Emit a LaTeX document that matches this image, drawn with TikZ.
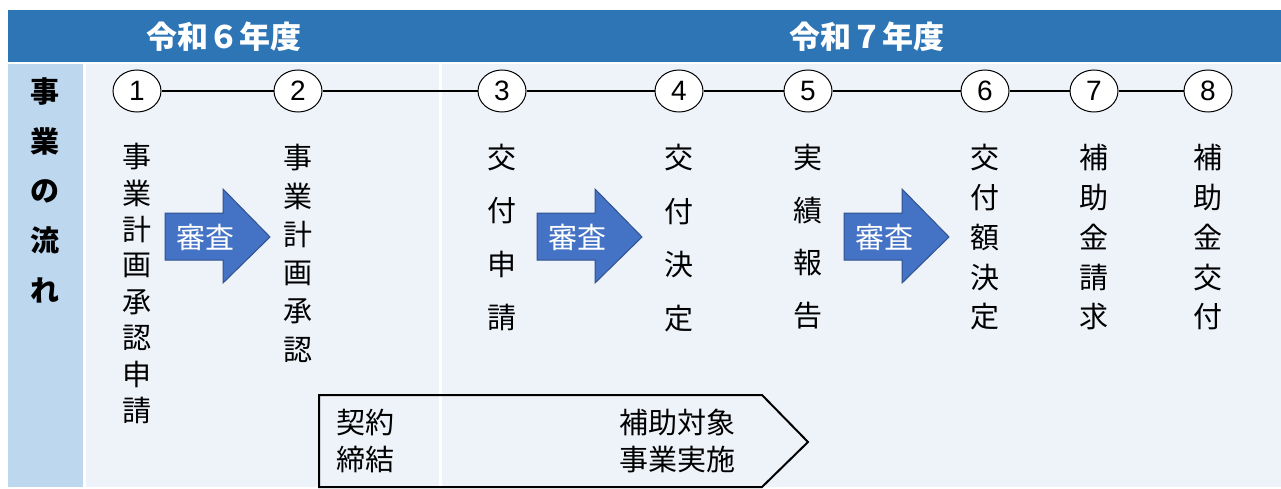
\documentclass[tikz,border=0pt]{standalone}
\usepackage{fontspec}
\setmainfont{Noto Sans CJK JP}
\newfontfamily\digitfont{Liberation Sans}
\usetikzlibrary{shapes.geometric}
\definecolor{hdr}{HTML}{2E75B6}
\definecolor{leftcol}{HTML}{BDD7EE}
\definecolor{panel}{HTML}{EEF3FA}
\definecolor{arrfill}{HTML}{4472C4}
\definecolor{arrdraw}{HTML}{2F528F}
\newcommand\mkcol[5]{\foreach \ch [count=\i] in {#5} {\node[vch] (#1-\i) at (#2,{#3+(\i-1)*#4}) {\ch};}}
\newcommand\mkarrow[2]{%
  \draw[arrshape] (#1,213) -- ({#1+58},213) -- ({#1+58},189) -- ({#1+105},237) -- ({#1+58},283) -- ({#1+58},260) -- (#1,260) -- cycle;
  \node[arrtext] (#2) at ({#1+40},237) {審査};}
\tikzset{
  vch/.style={inner sep=0pt, font=\fontsize{29}{29}\selectfont},
  vchb/.style={inner sep=0pt, font=\bfseries\fontsize{29}{29}\selectfont},
  stepnum/.style={ellipse, draw, fill=white, line width=1pt, minimum width=48pt, minimum height=42pt, inner sep=0pt, font=\digitfont\fontsize{28}{28}\selectfont},
  hdrtext/.style={text=white, inner sep=0pt, font=\bfseries\fontsize{31}{31}\selectfont},
  arrshape/.style={fill=arrfill, draw=arrdraw, line width=1pt},
  arrtext/.style={text=white, inner sep=0pt, font=\fontsize{29}{29}\selectfont},
  btext/.style={inner sep=0pt, align=left, font=\fontsize{29}{37}\selectfont},
  tline/.style={line width=2pt}
}
\begin{document}
\begin{tikzpicture}[x=1pt,y=-1pt]
\useasboundingbox (0,0) rectangle (1281,489);
\fill[white] (0,0) rectangle (1281,489);
% header and panels
\fill[hdr] (8,10) rectangle (1281,62);
\fill[leftcol] (8,64) rectangle (83,487);
\fill[panel] (86,64) rectangle (438.5,487);
\fill[panel] (441.5,64) rectangle (1281,487);
\node[hdrtext] (y6) at (224,37) {令和６年度};
\node[hdrtext] (y7) at (867,37) {令和７年度};
% left column label
\foreach \ch [count=\i] in {事,業,の,流,れ} {\node[vchb] (flow-\i) at (45,{92+(\i-1)*49.5}) {\ch};}
% step numbers
\foreach \n/\x in {1/137,2/298,3/502,4/679,5/808,6/985,7/1094,8/1208}
  {\node[stepnum] (n\n) at (\x,91) {\n};}
\foreach \a/\b in {1/2,2/3,3/4,4/5,5/6,6/7,7/8}
  {\draw[tline] (n\a) -- (n\b);}
% columns of text
\mkcol{c1}{137}{157}{36.2}{事,業,計,画,承,認,申,請}
\mkcol{c2}{298}{158}{38.4}{事,業,計,画,承,認}
\mkcol{c3}{502}{158}{53}{交,付,申,請}
\mkcol{c4}{679}{158}{53.5}{交,付,決,定}
\mkcol{c5}{808}{158}{52.5}{実,績,報,告}
\mkcol{c6}{985}{158}{39.7}{交,付,額,決,定}
\mkcol{c7}{1094}{158}{39.7}{補,助,金,請,求}
\mkcol{c8}{1208}{158}{39.7}{補,助,金,交,付}
% review arrows
\mkarrow{165}{r1}
\mkarrow{537}{r2}
\mkarrow{844}{r3}
% implementation pentagon
\draw[line width=2pt] (319,395) -- (762,395) -- (808,442) -- (762,487) -- (319,487) -- cycle;
\node[btext, anchor=west] (keiyaku) at (336,441) {契約\\締結};
\node[btext, anchor=west] (hojo) at (619,441) {補助対象\\事業実施};
\end{tikzpicture}
\end{document}
